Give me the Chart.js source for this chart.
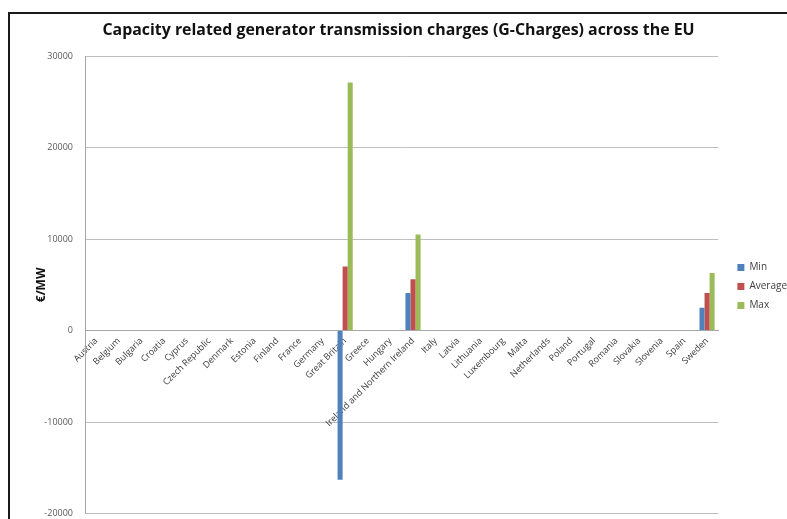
<!DOCTYPE html>
<html>
<head>
<meta charset="utf-8">
<script src="https://cdn.jsdelivr.net/npm/chart.js@4"></script>
<style>
  html, body { margin: 0; padding: 0; background: #fff; overflow: hidden; }
  #wrap { position: relative; width: 787px; height: 519px; overflow: hidden; }
  #frame { position: absolute; left: 8px; top: 12px; width: 900px; height: 600px; border: 2px solid #1a1a1a; box-sizing: border-box; }
  canvas { position: absolute; left: 0; top: 0; }
</style>
</head>
<body>
<div id="wrap">
  <div id="frame"></div>
  <!-- canvas is a bit taller than the window: the bottom of the plot is cut off like in the source image -->
  <canvas id="chart" width="787" height="531"></canvas>
</div>
<script>
const countries = ['Austria', 'Belgium', 'Bulgaria', 'Croatia', 'Cyprus', 'Czech Republic', 'Denmark',
  'Estonia', 'Finland', 'France', 'Germany', 'Great Britain', 'Greece', 'Hungary',
  'Ireland and Northern Ireland', 'Italy', 'Latvia', 'Lithuania', 'Luxembourg', 'Malta',
  'Netherlands', 'Poland', 'Portugal', 'Romania', 'Slovakia', 'Slovenia', 'Spain', 'Sweden'];

const minVals = [null, null, null, null, null, null, null, null, null, null, null, -16300, null, null,
  4100, null, null, null, null, null, null, null, null, null, null, null, null, 2500];
const avgVals = [null, null, null, null, null, null, null, null, null, null, null, 7000, null, null,
  5600, null, null, null, null, null, null, null, null, null, null, null, null, 4100];
const maxVals = [null, null, null, null, null, null, null, null, null, null, null, 27100, null, null,
  10500, null, null, null, null, null, null, null, null, null, null, null, null, 6300];

const yTicks = [-20000, -10000, 0, 10000, 20000, 30000];

// nudge the legend a little right/down of where chart.js puts it
const legendShift = {
  id: 'legendShift',
  afterLayout(chart) {
    const lg = chart.legend;
    if (!lg) return;
    lg.left += 10;
    lg.right += 10;
    lg.top += 17;
    lg.bottom += 17;
  },
};

new Chart(document.getElementById('chart'), {
  type: 'bar',
  data: {
    labels: countries,
    datasets: [
      { label: 'Min', data: minVals, backgroundColor: '#4F81BD' },
      { label: 'Average', data: avgVals, backgroundColor: '#C0504D' },
      { label: 'Max', data: maxVals, backgroundColor: '#9BBB59' },
    ],
  },
  plugins: [legendShift],
  options: {
    responsive: false,
    animation: false,
    layout: { padding: { left: 10, right: 0, top: 8, bottom: 0 } },
    datasets: { bar: { categoryPercentage: 0.67, barPercentage: 1.0 } },
    plugins: {
      title: {
        display: true,
        text: 'Capacity related generator transmission charges (G-Charges) across the EU',
        font: { family: 'Open Sans', size: 15.9, weight: 'bold' },
        color: '#111',
        padding: { top: 13, bottom: 16 },
      },
      legend: {
        position: 'right',
        labels: {
          boxWidth: 7,
          boxHeight: 7,
          padding: 9,
          color: '#404040',
          font: { family: 'Open Sans', size: 10 },
        },
      },
      tooltip: { enabled: false },
    },
    scales: {
      x: {
        position: { y: 0 },
        // rotated labels may hang left of the plot, don't let them push it
        afterFit: (s) => { s.paddingLeft = 0; s.paddingRight = 0; },
        grid: { display: false, drawTicks: false },
        border: { color: '#a6a6a6' },
        ticks: {
          autoSkip: false,
          minRotation: 45,
          maxRotation: 45,
          padding: 5,
          color: '#3a3a3a',
          font: { family: 'Open Sans', size: 9 },
        },
      },
      y: {
        min: -20000,
        max: 30000,
        afterBuildTicks: (s) => { s.ticks = yTicks.map((v) => ({ value: v })); },
        afterFit: (s) => { s.width = 75; },
        grid: { color: '#bfbfbf', drawTicks: false },
        border: { color: '#a6a6a6' },
        title: {
          display: true,
          text: '€/MW',
          font: { family: 'Open Sans', size: 12, weight: 'bold' },
          color: '#111',
          padding: { top: 24, bottom: 0 },
        },
        ticks: {
          padding: 12,
          color: '#595959',
          font: { family: 'Open Sans', size: 9 },
          callback: (v) => String(v),
        },
      },
    },
  },
});
</script>
</body>
</html>
